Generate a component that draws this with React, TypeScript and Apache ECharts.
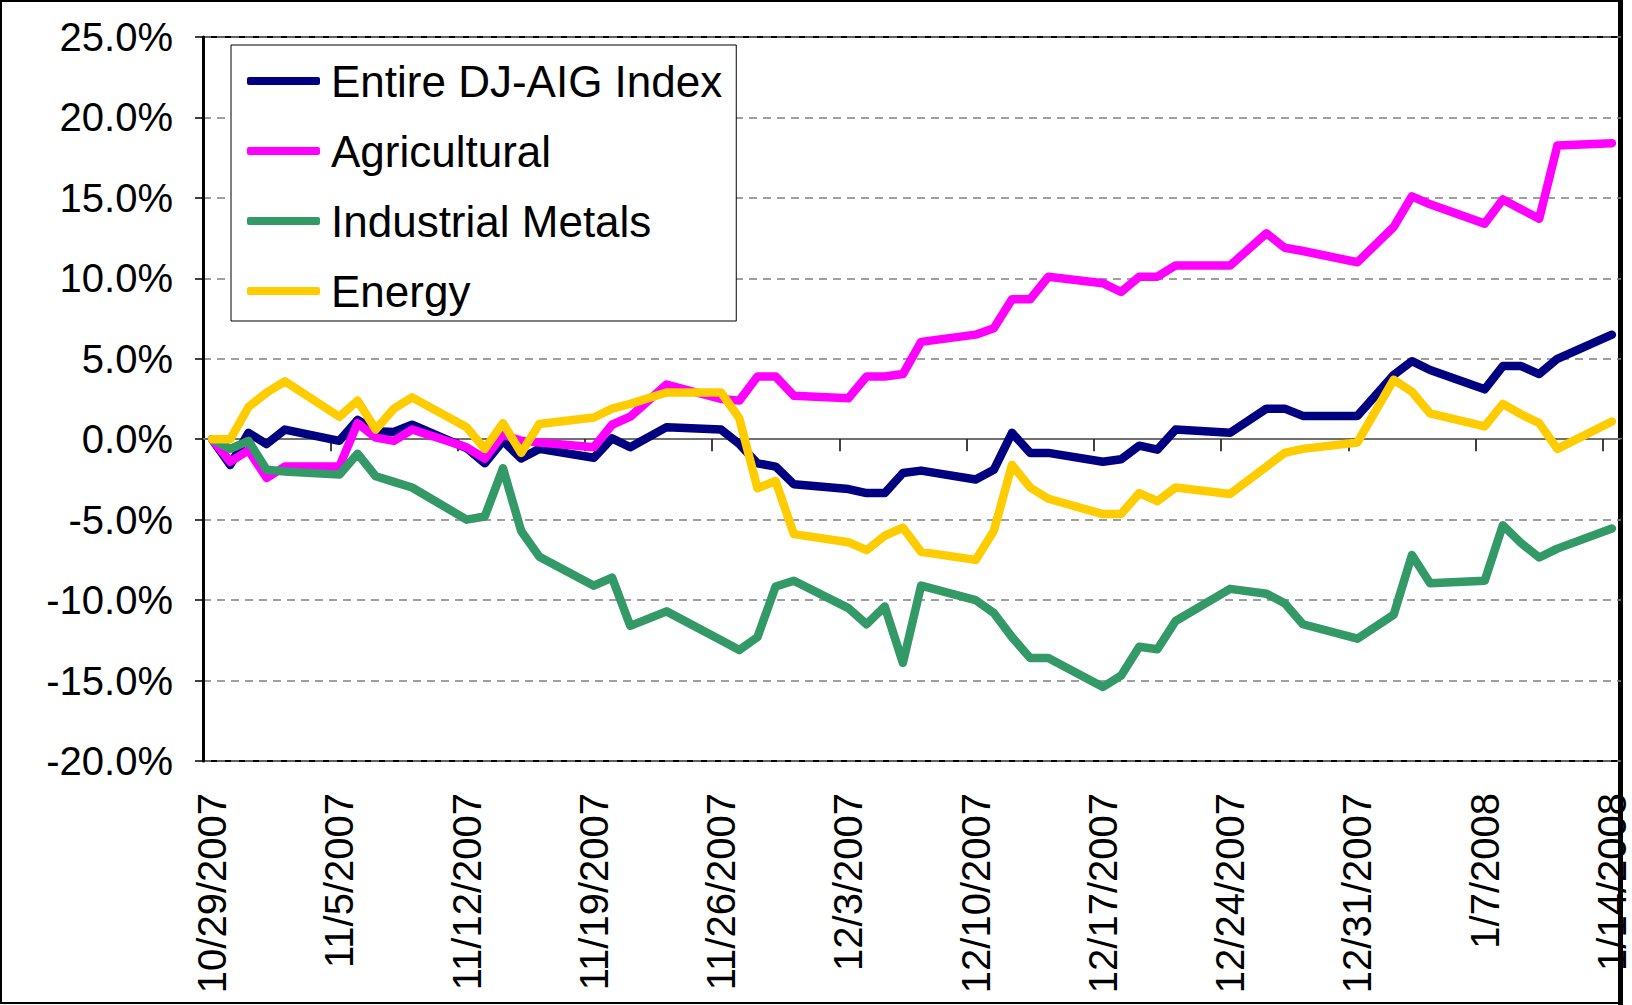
import React, { useEffect, useRef } from "react";
import * as echarts from "echarts";

// Trading days with observations
const tradingDays = [
  "10/29/2007", "10/30/2007", "10/31/2007", "11/1/2007", "11/2/2007",
  "11/5/2007", "11/6/2007", "11/7/2007", "11/8/2007", "11/9/2007",
  "11/12/2007", "11/13/2007", "11/14/2007", "11/15/2007", "11/16/2007",
  "11/19/2007", "11/20/2007", "11/21/2007", "11/23/2007",
  "11/26/2007", "11/27/2007", "11/28/2007", "11/29/2007", "11/30/2007",
  "12/3/2007", "12/4/2007", "12/5/2007", "12/6/2007", "12/7/2007",
  "12/10/2007", "12/11/2007", "12/12/2007", "12/13/2007", "12/14/2007",
  "12/17/2007", "12/18/2007", "12/19/2007", "12/20/2007", "12/21/2007",
  "12/24/2007", "12/26/2007", "12/27/2007", "12/28/2007",
  "12/31/2007", "1/2/2008", "1/3/2008", "1/4/2008",
  "1/7/2008", "1/8/2008", "1/9/2008", "1/10/2008", "1/11/2008",
  "1/14/2008",
];

const entireIndex = [
  0, -1.6, 0.4, -0.3, 0.6,
  -0.1, 1.2, 0.5, 0.45, 0.9,
  -0.55, -1.5, -0.1, -1.2, -0.6,
  -1.15, 0.05, -0.5, 0.75,
  0.6, -0.3, -1.5, -1.7, -2.8,
  -3.1, -3.35, -3.35, -2.1, -1.95,
  -2.5, -1.9, 0.4, -0.85, -0.85,
  -1.4, -1.25, -0.4, -0.65, 0.6,
  0.4, 1.9, 1.9, 1.45,
  1.45, 4.0, 4.85, 4.3,
  3.1, 4.55, 4.55, 4.05, 5.0,
  6.5,
];

const agricultural = [
  0, -1.4, -0.7, -2.4, -1.7,
  -1.7, 1.0, 0.1, -0.1, 0.6,
  -0.5, -1.2, 0.3, -0.1, -0.2,
  -0.5, 0.9, 1.4, 3.4,
  2.5, 2.4, 3.9, 3.9, 2.7,
  2.55, 3.9, 3.9, 4.05, 6.05,
  6.5, 6.9, 8.7, 8.7, 10.1,
  9.7, 9.15, 10.1, 10.1, 10.8,
  10.8, 12.8, 11.9, 11.7,
  11.0, 13.2, 15.1, 14.6,
  13.4, 14.9, 14.3, 13.7, 18.25,
  18.4,
];

const industrialMetals = [
  0, -0.6, -0.1, -1.9, -2.0,
  -2.2, -0.9, -2.3, -2.65, -3.0,
  -5.0, -4.8, -1.8, -5.7, -7.3,
  -9.1, -8.6, -11.6, -10.7,
  -12.5, -13.1, -12.3, -9.15, -8.8,
  -10.5, -11.5, -10.4, -13.9, -9.1,
  -10.0, -10.8, -12.3, -13.6, -13.6,
  -15.4, -14.7, -12.9, -13.05, -11.3,
  -9.3, -9.6, -10.2, -11.5,
  -12.4, -10.9, -7.2, -8.95,
  -8.8, -5.35, -6.45, -7.35, -6.8,
  -5.55,
];

const energy = [
  0, 0, 2.0, 2.9, 3.6,
  1.4, 2.4, 0.6, 1.9, 2.6,
  0.75, -0.6, 1.0, -0.85, 0.95,
  1.35, 1.9, 2.2, 2.9,
  2.9, 1.3, -3.05, -2.6, -5.9,
  -6.4, -6.9, -6.0, -5.5, -7.0,
  -7.5, -5.7, -1.6, -3.0, -3.7,
  -4.65, -4.65, -3.35, -3.85, -3.0,
  -3.4, -1.7, -0.85, -0.6,
  -0.2, 3.7, 2.95, 1.6,
  0.8, 2.2, 1.55, 1.0, -0.6,
  1.1,
];

const seriesNames = ["Entire DJ-AIG Index", "Agricultural", "Industrial Metals", "Energy"];
const seriesColors = ["#000080", "#FF00FF", "#339966", "#FFCC00"];
const seriesValues = [entireIndex, agricultural, industrialMetals, energy];

const yTicks = { min: -20, max: 25, interval: 5 };

// Calendar-day categories from first to last trading day
function buildCalendar(first: string, last: string): string[] {
  const parse = (s: string) => {
    const [m, d, y] = s.split("/").map(Number);
    return Date.UTC(y, m - 1, d);
  };
  const out: string[] = [];
  const end = parse(last);
  for (let t = parse(first); t <= end; t += 86400000) {
    const dt = new Date(t);
    out.push(`${dt.getUTCMonth() + 1}/${dt.getUTCDate()}/${dt.getUTCFullYear()}`);
  }
  return out;
}

const FONT = "'Liberation Sans', Arial, sans-serif";

export default function App() {
  const ref = useRef<HTMLDivElement>(null);

  useEffect(() => {
    if (!ref.current) return;
    const chart = echarts.init(ref.current, undefined, { renderer: "svg" });
    const categories = buildCalendar(tradingDays[0], tradingDays[tradingDays.length - 1]);
    const idx: Record<string, number> = {};
    tradingDays.forEach((d, i) => (idx[d] = i));

    const series = seriesNames.map((name, s) => ({
      name,
      type: "line",
      xAxisIndex: 0,
      yAxisIndex: 0,
      data: categories.map((c) => (c in idx ? seriesValues[s][idx[c]] : null)),
      connectNulls: true,
      showSymbol: false,
      symbol: "none",
      lineStyle: { color: seriesColors[s], width: 8.5, cap: "round", join: "round" },
      itemStyle: { color: seriesColors[s] },
    }));

    chart.setOption({
      animation: false,
      backgroundColor: "#ffffff",
      textStyle: { fontFamily: FONT },
      grid: {
        left: 203,
        right: 11,
        top: 37,
        height: 724,
        show: true,
        borderColor: "#000",
        borderWidth: 2,
        backgroundColor: "transparent",
      },
      legend: {
        orient: "vertical",
        left: 231,
        top: 45,
        itemWidth: 73,
        itemHeight: 8,
        itemGap: 14,
        padding: [8, 14, 2, 16],
        borderColor: "#000",
        borderWidth: 1,
        backgroundColor: "#fff",
        data: seriesNames.map((n) => ({ name: n, icon: "roundRect" })),
        textStyle: {
          fontSize: 44,
          lineHeight: 56,
          color: "#000",
          fontFamily: FONT,
          padding: [0, 0, 0, 6],
        },
      },
      xAxis: [
        {
          type: "category",
          data: categories,
          boundaryGap: true,
          axisLine: { onZero: true, lineStyle: { color: "#707070", width: 2 } },
          axisTick: { show: true, interval: 6, length: 12, lineStyle: { color: "#000", width: 1.5 } },
          axisLabel: { show: false },
          splitLine: { show: false },
        },
        {
          type: "category",
          data: categories,
          boundaryGap: true,
          position: "bottom",
          axisLine: { show: false, onZero: false },
          axisTick: { show: false },
          axisLabel: {
            interval: 6,
            rotate: 90,
            margin: 32,
            fontSize: 40,
            color: "#000",
            fontFamily: FONT,
          },
          splitLine: { show: false },
        },
      ],
      yAxis: {
        type: "value",
        min: yTicks.min,
        max: yTicks.max,
        interval: yTicks.interval,
        axisLine: { show: true, lineStyle: { color: "#000", width: 3 } },
        axisTick: { show: true, length: 8, lineStyle: { color: "#000", width: 1.5 } },
        axisLabel: {
          margin: 30,
          fontSize: 40,
          color: "#000",
          fontFamily: FONT,
          formatter: (v: number) => v.toFixed(1) + "%",
        },
        splitLine: {
          show: true,
          lineStyle: { color: "#808080", width: 1.5, type: [8, 6] },
        },
      },
      graphic: [
        {
          type: "rect",
          shape: { x: 1, y: 1, width: 1620, height: 1002 },
          style: { fill: "none", stroke: "#000", lineWidth: 2 },
          silent: true,
        },
        {
          type: "line",
          shape: { x1: 1620.5, y1: 0, x2: 1620.5, y2: 1005 },
          style: { stroke: "#000", lineWidth: 5 },
          silent: true,
        },
      ],
      series,
    });

    return () => chart.dispose();
  }, []);

  return (
    <div
      ref={ref}
      style={{ position: "absolute", left: 0, top: 0, width: 1632, height: 1005 }}
    />
  );
}
